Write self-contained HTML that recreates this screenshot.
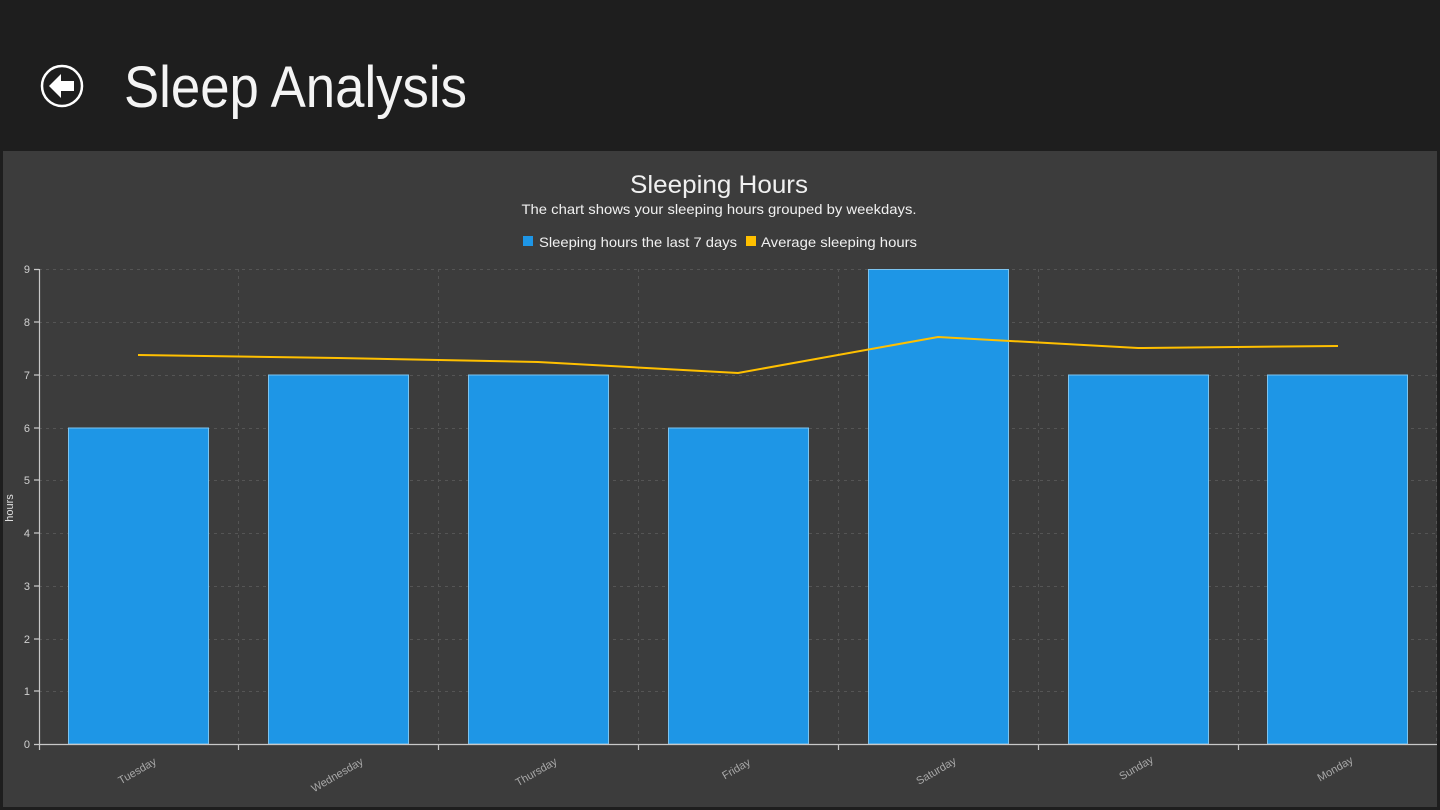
<!DOCTYPE html>
<html><head><meta charset="utf-8"><style>
html,body{margin:0;padding:0;background:#1e1e1e;width:1440px;height:810px;overflow:hidden}
svg{display:block}
text{font-family:"Liberation Sans",sans-serif}
</style></head><body>
<svg width="1440" height="810" viewBox="0 0 1440 810">
<rect x="0" y="0" width="1440" height="810" fill="#1e1e1e"/>
<circle cx="62" cy="86" r="20" fill="none" stroke="#fff" stroke-width="2.5"/>
<path d="M49 86 L61 74 L61 81 L74 81 L74 91 L61 91 L61 98 Z" fill="#fff"/>
<text x="124" y="107" font-size="58" fill="#f4f4f4" textLength="343" lengthAdjust="spacingAndGlyphs">Sleep Analysis</text>
<rect x="3" y="151" width="1434" height="656" fill="#3c3c3c"/>
<text x="719" y="193" font-size="25" fill="#f0f0f0" text-anchor="middle" textLength="178" lengthAdjust="spacingAndGlyphs">Sleeping Hours</text>
<text x="719" y="214" font-size="14" fill="#f0f0f0" text-anchor="middle" textLength="395" lengthAdjust="spacingAndGlyphs">The chart shows your sleeping hours grouped by weekdays.</text>
<rect x="523" y="236" width="10" height="10" fill="#1e96e6"/>
<text x="539" y="247" font-size="14" fill="#f0f0f0" textLength="198" lengthAdjust="spacingAndGlyphs">Sleeping hours the last 7 days</text>
<rect x="746" y="236" width="10" height="10" fill="#ffc000"/>
<text x="761" y="247" font-size="14" fill="#f0f0f0" textLength="156" lengthAdjust="spacingAndGlyphs">Average sleeping hours</text>
<g stroke="#555" stroke-width="1" stroke-dasharray="3,4" fill="none">
<path d="M39 269.5H1437M39 322.5H1437M39 375.5H1437M39 428.5H1437M39 480.5H1437M39 533.5H1437M39 586.5H1437M39 639.5H1437M39 691.5H1437"/>
<path d="M238.5 269V744M438.5 269V744M638.5 269V744M838.5 269V744M1038.5 269V744M1238.5 269V744M1436.5 269V744"/>
</g>
<g fill="#1e96e6" stroke="#7cc4f0" stroke-width="1">
<rect x="68.5" y="428" width="140" height="316"/>
<rect x="268.5" y="375" width="140" height="369"/>
<rect x="468.5" y="375" width="140" height="369"/>
<rect x="668.5" y="428" width="140" height="316"/>
<rect x="868.5" y="269.5" width="140" height="474.5"/>
<rect x="1068.5" y="375" width="140" height="369"/>
<rect x="1267.5" y="375" width="140" height="369"/>
</g>
<polyline points="138,355 338,358 538,362 738,373 938,337 1138,348 1338,346" fill="none" stroke="#ffc000" stroke-width="2"/>
<g stroke="#c8c8c8" stroke-width="1.2">
<path d="M39.5 269V750M34 744.5H1437"/>
<path d="M34 269.5H39M34 322H39M34 375H39M34 428H39M34 480H39M34 533H39M34 586H39M34 639H39M34 691H39"/>
<path d="M238.5 744V750M438.5 744V750M638.5 744V750M838.5 744V750M1038.5 744V750M1238.5 744V750"/>
</g>
<g font-size="11" fill="#d0d0d0" text-anchor="end">
<text x="30" y="273">9</text><text x="30" y="326">8</text><text x="30" y="379">7</text><text x="30" y="432">6</text><text x="30" y="484">5</text><text x="30" y="537">4</text><text x="30" y="590">3</text><text x="30" y="643">2</text><text x="30" y="695">1</text><text x="30" y="748">0</text>
</g>
<text transform="translate(13,508) rotate(-90)" font-size="11" fill="#e0e0e0" text-anchor="middle">hours</text>
<g font-size="11" fill="#a8a8a8" text-anchor="middle">
<text transform="translate(139,774) rotate(-30)">Tuesday</text>
<text transform="translate(339,778) rotate(-30)">Wednesday</text>
<text transform="translate(538,775) rotate(-30)">Thursday</text>
<text transform="translate(738,772) rotate(-30)">Friday</text>
<text transform="translate(938,774) rotate(-30)">Saturday</text>
<text transform="translate(1138,771) rotate(-30)">Sunday</text>
<text transform="translate(1337,772) rotate(-30)">Monday</text>
</g>
</svg>
</body></html>
